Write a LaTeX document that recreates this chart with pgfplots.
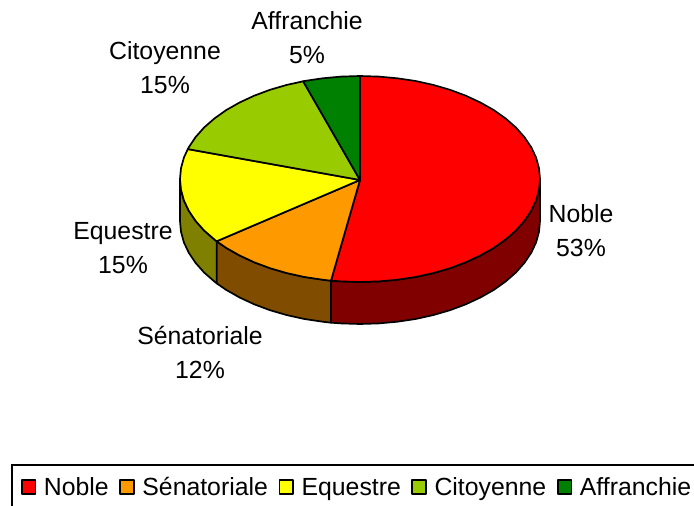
\documentclass[border=0pt]{standalone}
\usepackage{pgfplots}
\pgfplotsset{compat=1.18}
\usepackage{fontspec}
\setmainfont{Liberation Sans}
\definecolor{cNoble}{HTML}{FF0000}
\definecolor{cSen}{HTML}{FF9900}
\definecolor{cEqu}{HTML}{FFFF00}
\definecolor{cCit}{HTML}{99CC00}
\definecolor{cAff}{HTML}{008000}
\definecolor{wNoble}{HTML}{800000}
\definecolor{wSen}{HTML}{804D00}
\definecolor{wEqu}{HTML}{808000}
\newcommand{\lblfont}{\fontsize{24.8}{34}\selectfont}
\begin{document}
\begin{tikzpicture}
\path[use as bounding box] (0,0) rectangle (694pt,506pt);
\begin{axis}[
  at={(0,0)}, anchor=south west,
  hide axis, scale only axis, width=694pt, height=506pt,
  xmin=0, xmax=694, ymin=0, ymax=506, y dir=reverse,
  clip=false,
  legend columns=-1,
  legend image code/.code={\draw[#1,line width=1.7pt] (0pt,-6.9pt) rectangle (13.8pt,6.9pt);},
  legend style={
    at={(axis cs:11,464)}, anchor=north west,
    draw=black, line width=1.7pt, fill=white,
    inner xsep=9pt, inner ysep=13pt,
    font=\lblfont,
    nodes={inner sep=0pt, text height=18pt, text depth=0pt},
    /tikz/every odd column/.append style={column sep=7.6pt},
    /tikz/every even column/.append style={column sep=10.6pt},
  },
  every axis plot/.append style={draw=black, line width=1.7pt, line join=round},
]
% side walls
\addplot[fill=wNoble, forget plot] coordinates {
(540,179)(539,189.8)(536.1,200.4)(531.2,210.8)(524.4,220.9)(515.9,230.5)(505.6,239.5)(493.8,247.9)(480.4,255.5)(465.8,262.3)(450,268.2)(433.2,273.1)(415.6,277)(397.4,279.7)(378.8,281.4)(360,282)(341.2,281.4)(331,280.7)
(331,322.7)(341.2,323.4)(360,324)(378.8,323.4)(397.4,321.7)(415.6,319)(433.2,315.1)(450,310.2)(465.8,304.3)(480.4,297.5)(493.8,289.9)(505.6,281.5)(515.9,272.5)(524.4,262.9)(531.2,252.8)(536.1,242.4)(539,231.8)(540,221)
} -- cycle;
\addplot[fill=wSen, forget plot] coordinates {
(331,280.7)(322.6,279.7)(304.4,277)(286.8,273.1)(270,268.2)(254.2,262.3)(239.6,255.5)(226.2,247.9)(216.6,241.3)
(216.6,283.3)(226.2,289.9)(239.6,297.5)(254.2,304.3)(270,310.2)(286.8,315.1)(304.4,319)(322.6,321.7)(331,322.7)
} -- cycle;
\addplot[fill=wEqu, forget plot] coordinates {
(216.6,241.3)(214.4,239.5)(204.1,230.5)(195.6,220.9)(188.8,210.8)(183.9,200.4)(181,189.8)(180,179)
(180,221)(181,231.8)(183.9,242.4)(188.8,252.8)(195.6,262.9)(204.1,272.5)(214.4,281.5)(216.6,283.3)
} -- cycle;
% top faces
\addplot[fill=cNoble] coordinates {
(360,180)(360,76)(378.8,76.6)(397.4,78.3)(415.6,81)(433.2,84.9)(450,89.8)(465.8,95.7)(480.4,102.5)(493.8,110.1)(505.6,118.5)(515.9,127.5)(524.4,137.1)(531.2,147.2)(536.1,157.6)(539,168.2)(540,179)(539,189.8)(536.1,200.4)(531.2,210.8)(524.4,220.9)(515.9,230.5)(505.6,239.5)(493.8,247.9)(480.4,255.5)(465.8,262.3)(450,268.2)(433.2,273.1)(415.6,277)(397.4,279.7)(378.8,281.4)(360,282)(341.2,281.4)(331,280.7)
} -- cycle;
\addlegendentry{Noble}
\addplot[fill=cSen] coordinates {
(360,180)(331,280.7)(322.6,279.7)(304.4,277)(286.8,273.1)(270,268.2)(254.2,262.3)(239.6,255.5)(226.2,247.9)(216.6,241.3)
} -- cycle;
\addlegendentry{Sénatoriale}
\addplot[fill=cEqu] coordinates {
(360,180)(216.6,241.3)(214.4,239.5)(204.1,230.5)(195.6,220.9)(188.8,210.8)(183.9,200.4)(181,189.8)(180,179)(181,168.2)(183.9,157.6)(187.8,149.1)
} -- cycle;
\addlegendentry{Equestre}
\addplot[fill=cCit] coordinates {
(360,180)(187.8,149.1)(188.8,147.2)(195.6,137.1)(204.1,127.5)(214.4,118.5)(226.2,110.1)(239.6,102.5)(254.2,95.7)(270,89.8)(286.8,84.9)(303.2,81.3)
} -- cycle;
\addlegendentry{Citoyenne}
\addplot[fill=cAff] coordinates {
(360,180)(303.2,81.3)(304.4,81)(322.6,78.3)(341.2,76.6)(360,76)
} -- cycle;
\addlegendentry{Affranchie}
% data labels
\node[align=center,font=\lblfont] at (axis cs:307,38) {Affranchie\\5\%};
\node[align=center,font=\lblfont] at (axis cs:165,68) {Citoyenne\\15\%};
\node[align=center,font=\lblfont] at (axis cs:581,231) {Noble\\53\%};
\node[align=center,font=\lblfont] at (axis cs:123,248) {Equestre\\15\%};
\node[align=center,font=\lblfont] at (axis cs:200,352) {Sénatoriale\\12\%};
\end{axis}
\end{tikzpicture}
\end{document}
